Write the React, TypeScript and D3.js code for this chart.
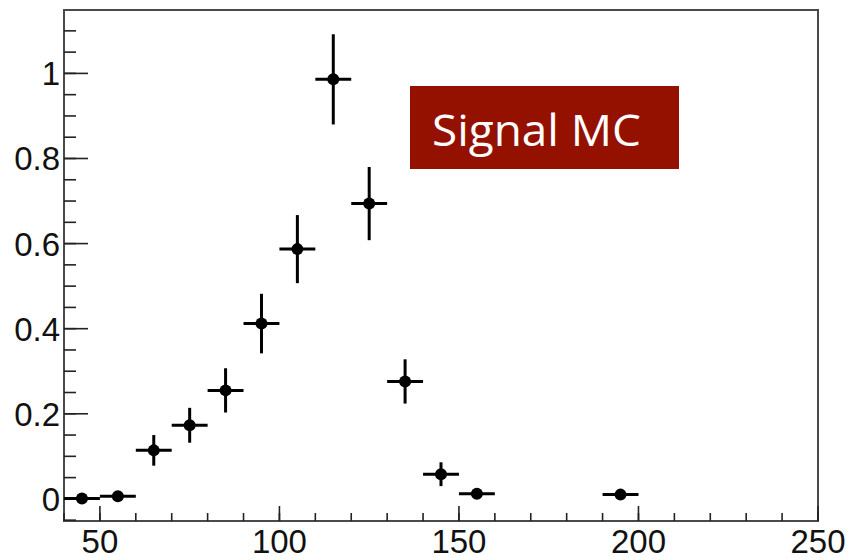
import * as d3 from 'd3';

// bin centres, contents and errors (10 GeV bins)
const CENTERS = [45, 55, 65, 75, 85, 95, 105, 115, 125, 135, 145, 155, 195];
const VALUES = [0.001, 0.006, 0.114, 0.173, 0.255, 0.412, 0.587, 0.986, 0.694, 0.276, 0.058, 0.012, 0.010];
const ERRORS = [0.004, 0.008, 0.036, 0.041, 0.052, 0.070, 0.080, 0.106, 0.086, 0.052, 0.028, 0.010, 0.009];
const BIN_HALF = 5;
const X_TICKS = [50, 100, 150, 200, 250];
const Y_TICKS = [0, 0.2, 0.4, 0.6, 0.8, 1];
const LABEL = 'Signal MC';

const W = 850, H = 560;
const F = { left: 64, right: 818, top: 10, bottom: 521 };

export default function App() {
  const x = d3.scaleLinear().domain([40, 250]).range([F.left, F.right]);
  const y = d3.scaleLinear().domain([-0.052, 1.149]).range([F.bottom, F.top]);

  const xMinor = d3.range(40, 251, 10);
  const yMinor = d3.range(-0.05, 1.149, 0.05);
  const font = '"Liberation Sans", Arial, sans-serif';

  return (
    <div style={{ position: 'absolute', left: 0, top: 0 }}>
      <svg width={W} height={H} viewBox={`0 0 ${W} ${H}`} style={{ display: 'block', background: '#fff' }}>
        {/* frame */}
        <rect x={F.left} y={F.top} width={F.right - F.left} height={F.bottom - F.top}
          fill="none" stroke="#4a4a4a" strokeWidth={2} />

        {/* y ticks */}
        {yMinor.map(t => (
          <line key={'ym' + t} x1={F.left} x2={F.left + 12} y1={y(t)} y2={y(t)} stroke="#222" strokeWidth={1.6} />
        ))}
        {Y_TICKS.map(t => (
          <g key={'y' + t}>
            <line x1={F.left} x2={F.left + 24} y1={y(t)} y2={y(t)} stroke="#222" strokeWidth={1.6} />
            <text x={60} y={y(t) + 12} textAnchor="end" fontFamily={font} fontSize={33} fill="#111">
              {d3.format('~g')(t)}
            </text>
          </g>
        ))}

        {/* x ticks */}
        {xMinor.map(t => (
          <line key={'xm' + t} x1={x(t)} x2={x(t)} y1={F.bottom} y2={F.bottom - 8} stroke="#222" strokeWidth={1.6} />
        ))}
        {X_TICKS.map(t => (
          <g key={'x' + t}>
            <line x1={x(t)} x2={x(t)} y1={F.bottom} y2={F.bottom - 15} stroke="#222" strokeWidth={1.6} />
            <text x={x(t)} y={553} textAnchor="middle" fontFamily={font} fontSize={33} fill="#111">{t}</text>
          </g>
        ))}

        {/* data points with error bars */}
        {CENTERS.map((c, i) => (
          <g key={c} stroke="#000" strokeWidth={3}>
            <line x1={x(c - BIN_HALF)} x2={x(c + BIN_HALF)} y1={y(VALUES[i])} y2={y(VALUES[i])} />
            <line x1={x(c)} x2={x(c)} y1={y(VALUES[i] - ERRORS[i])} y2={y(VALUES[i] + ERRORS[i])} />
            <circle cx={x(c)} cy={y(VALUES[i])} r={6} fill="#000" stroke="none" />
          </g>
        ))}

        {/* label box */}
        <rect x={410} y={86} width={269} height={83} fill="#941100" />
        <text x={432} y={146} fill="#fff" fontFamily='"Open Sans", sans-serif' fontSize={44}
          textLength={209} lengthAdjust="spacingAndGlyphs">{LABEL}</text>
      </svg>
    </div>
  );
}
